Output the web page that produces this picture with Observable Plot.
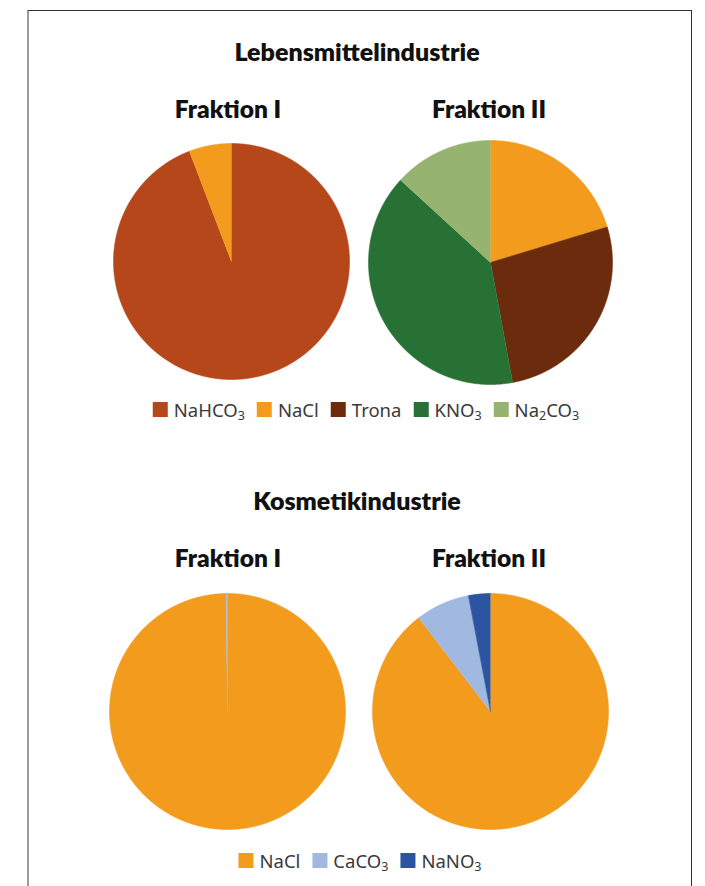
<!DOCTYPE html>
<html>
<head>
<meta charset="utf-8">
<script src="https://cdn.jsdelivr.net/npm/d3@7"></script>
<script src="https://cdn.jsdelivr.net/npm/@observablehq/plot@0.6"></script>
<style>
  html, body { margin: 0; padding: 0; background: #fff; }
  #page { position: relative; width: 705px; height: 886px; overflow: hidden; background: #fff; }
  #frame { position: absolute; left: 27px; top: 10px; width: 662px; height: 900px;
           border-left: 2px solid #9a9a9a; border-top: 1.5px solid #333; border-right: 1.5px solid #333; }
  .title, .sub { position: absolute; font-family: Lato, "DejaVu Sans Condensed", sans-serif; font-weight: 800;
           color: #111; white-space: nowrap; transform: translateX(-50%); line-height: 1; }
  .title { font-size: 25px; }
  .sub { font-size: 24.5px; }
  .legend { position: absolute; display: flex; align-items: center; transform: translateX(-50%);
            font-family: "Noto Sans", "Open Sans", sans-serif; font-size: 18.5px; color: #3a3a3a; white-space: nowrap; }
  .item { display: flex; align-items: center; margin: 0 6px; }
  .sw { width: 15px; height: 15px; margin-right: 6px; }
  .legend sub { font-size: 0.68em; vertical-align: -0.25em; line-height: 0; }
  .pie { position: absolute; }
</style>
</head>
<body>
<div id="page">
  <div id="frame"></div>
</div>
<script>
// ---- data ----
const substances = ["NaHCO3", "NaCl", "Trona", "KNO3", "Na2CO3", "CaCO3", "NaNO3"];
const palette    = ["#B5471A", "#F29B1D", "#6D2B0E", "#287134", "#96B46F", "#A1B8E0", "#2B55A1"];

const groupTitles = ["Lebensmittelindustrie", "Kosmetikindustrie"];
const fractionTitles = ["Fraktion I", "Fraktion II"];

const foodSubstances = ["NaHCO3", "NaCl", "Trona", "KNO3", "Na2CO3"];
const foodFraktionI  = [94.2, 5.8, 0, 0, 0];
const foodFraktionII = [0, 20.3, 26.8, 39.7, 13.2];

const cosmeticSubstances = ["NaCl", "CaCO3", "NaNO3"];
const cosmeticFraktionI  = [99.8, 0.2, 0];
const cosmeticFraktionII = [89.6, 7.4, 3.0];

// ---- helpers ----
const page = document.getElementById("page");
function addText(cls, text, cx, top) {
  const d = document.createElement("div");
  d.className = cls; d.textContent = text;
  d.style.left = cx + "px"; d.style.top = top + "px";
  page.appendChild(d);
}
const pieGen = d3.pie().sort(null).value(d => d.v).startAngle(0).endAngle(2 * Math.PI);
function wedgeRows(names, values) {
  const data = names.map((n, i) => ({name: n, v: values[i]})).filter(d => d.v > 0);
  const rows = [];
  for (const a of pieGen(data)) {
    const span = a.endAngle - a.startAngle;
    const n = Math.max(2, Math.ceil(span / 0.004));
    rows.push({name: a.data.name, x: 0, y: 0});
    for (let k = 0; k <= n; k++) {
      const t = a.startAngle + span * k / n;
      rows.push({name: a.data.name, x: Math.sin(t), y: Math.cos(t)});
    }
  }
  return rows;
}
function addPie(names, values, cx, cy, r) {
  const pad = 3;
  const size = 2 * r + 2 * pad;
  const chart = Plot.plot({
    width: size, height: size,
    margin: pad,
    x: {domain: [-1, 1], axis: null},
    y: {domain: [-1, 1], axis: null},
    color: {domain: substances, range: palette},
    marks: [
      Plot.line(wedgeRows(names, values), {
        x: "x", y: "y", z: "name", fill: "name", stroke: "name",
        strokeWidth: 0.6, curve: "linear"
      })
    ]
  });
  const wrap = document.createElement("div");
  wrap.className = "pie";
  wrap.style.left = (cx - r - pad) + "px";
  wrap.style.top = (cy - r - pad) + "px";
  wrap.appendChild(chart);
  page.appendChild(wrap);
}
function addLegend(names, cx, cy) {
  const lg = document.createElement("div");
  lg.className = "legend";
  lg.style.left = cx + "px"; lg.style.top = (cy - 13) + "px";
  const color = d3.scaleOrdinal(substances, palette);
  for (const n of names) {
    const it = document.createElement("div"); it.className = "item";
    const sw = document.createElement("div"); sw.className = "sw"; sw.style.background = color(n);
    const tx = document.createElement("span");
    tx.innerHTML = n.replace(/(\d)/g, "<sub>$1</sub>");
    it.appendChild(sw); it.appendChild(tx); lg.appendChild(it);
  }
  page.appendChild(lg);
}

// ---- layout ----
addText("title", groupTitles[0], 357, 39);
addText("sub", fractionTitles[0], 228, 97);
addText("sub", fractionTitles[1], 489, 97);
addPie(foodSubstances, foodFraktionI, 230.5, 260.5, 118);
addPie(foodSubstances, foodFraktionII, 490, 262, 122);
addLegend(foodSubstances, 366, 410);

addText("title", groupTitles[1], 357, 488);
addText("sub", fractionTitles[0], 228, 546);
addText("sub", fractionTitles[1], 489, 546);
addPie(cosmeticSubstances, cosmeticFraktionI, 227, 711, 118);
addPie(cosmeticSubstances, cosmeticFraktionII, 490, 711, 118);
addLegend(cosmeticSubstances, 360, 861);
</script>
</body>
</html>
